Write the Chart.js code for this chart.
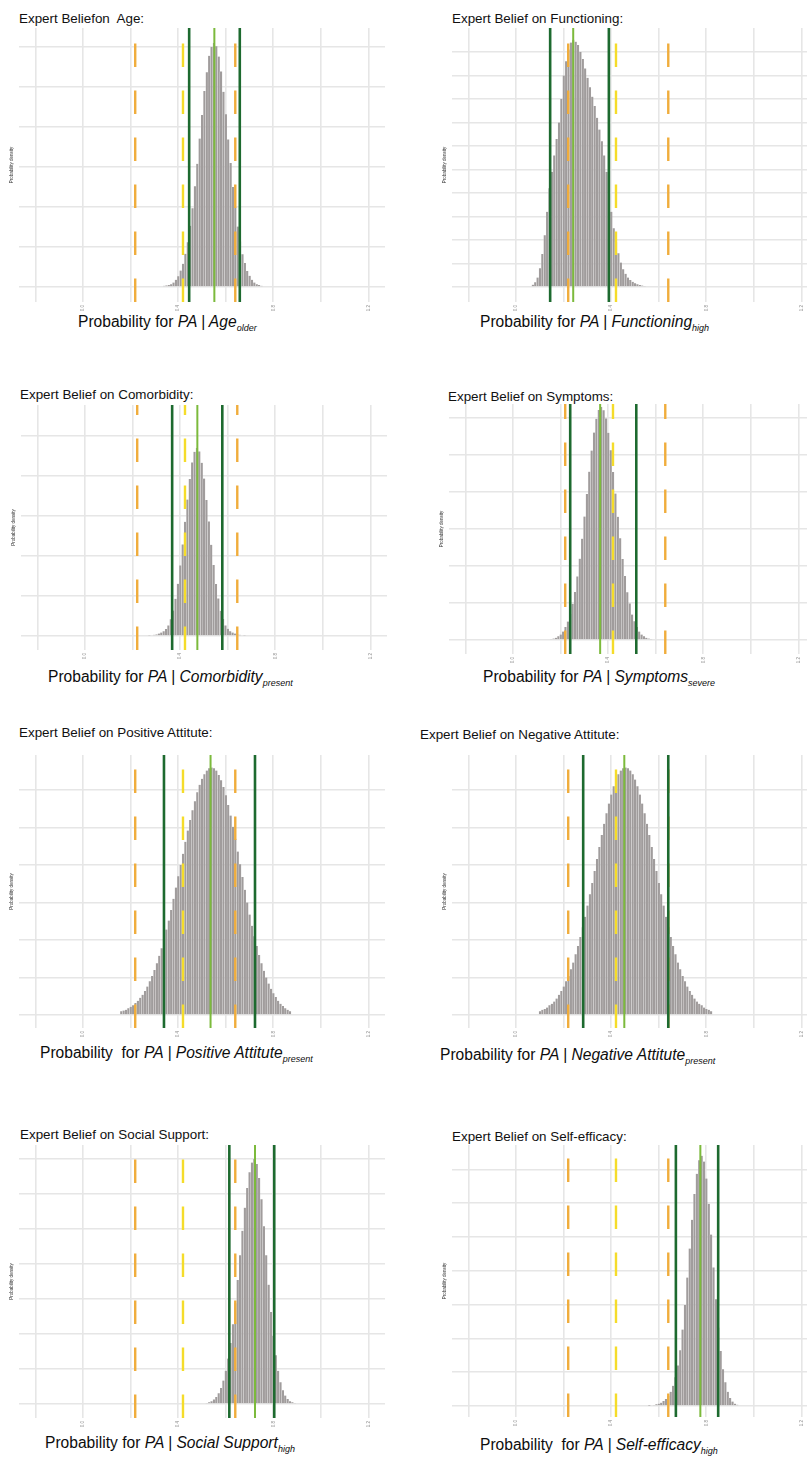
<!DOCTYPE html>
<html lang="en">
<head>
<meta charset="UTF-8">
<title>Expert Belief on PA</title>
<style>
    body {
        margin: 0;
        background: #ffffff;
        font-family: 'Liberation Sans', Arial, sans-serif;
    }
    #page {
        position: relative;
        width: 807px;
        height: 1459px;
        overflow: hidden;
    }
    .panel-title {
        position: absolute;
        font-size: 13.4px;
        line-height: 1;
        color: #111111;
        white-space: pre;
    }
    .x-title {
        position: absolute;
        font-size: 15.6px;
        line-height: 1;
        color: #0d0d0d;
        white-space: pre;
    }
    .x-title sub {
        font-size: 9px;
        vertical-align: -4px;
        line-height: 0;
    }
    canvas {
        position: absolute;
    }
</style>
</head>
<body>
<div id="page"></div>

<script src="https://cdn.jsdelivr.net/npm/chart.js"></script>
<script>
    // shared axis values
    const binWidth = 0.01;
    const xTicks = [-0.2, 0, 0.2, 0.4, 0.6, 0.8, 1.0, 1.2];
    const xLabelled = [0, 0.4, 0.8, 1.2];
    const expertDashed = [0.219, 0.42, 0.64];

    // Age
    const ageStart = 0.33;
    const ageDensity = [0.02, 0.03, 0.04, 0.05, 0.07, 0.11, 0.18, 0.27, 0.41, 0.58, 0.83, 1.12, 1.53, 1.97, 2.52, 3.08, 3.71, 4.30, 4.90, 5.37, 5.78, 6.00, 6.10, 6.02, 5.76, 5.39, 4.88, 4.32, 3.69, 3.10, 2.50, 1.99, 1.51, 1.14, 0.82, 0.60, 0.40, 0.28, 0.18, 0.11, 0.07, 0.05, 0.03, 0.02];
    const ageInterval = [0.446, 0.552, 0.659];
    const ageGrid = [0, 1, 2, 3, 4, 5, 6];

    // Functioning
    const funcStart = 0.07;
    const funcDensity = [0.05, 0.1, 0.2, 0.4, 0.7, 1.1, 1.6, 2.1, 2.45, 2.8, 3.15, 3.5, 4.0, 4.5, 4.8, 5.05, 5.2, 5.26, 5.22, 5.15, 5.0, 4.85, 4.65, 4.45, 4.25, 4.05, 3.85, 3.6, 3.35, 3.1, 2.8, 2.45, 2.0, 1.6, 1.25, 0.95, 0.72, 0.52, 0.38, 0.28, 0.2, 0.15, 0.11, 0.08, 0.06, 0.04, 0.03, 0.02];
    const funcInterval = [0.143, 0.24, 0.39];
    const funcGrid = [0, 0.5, 1, 1.5, 2, 2.5, 3, 3.5, 4, 4.5, 5];

    // Comorbidity
    const comStart = 0.27;
    const comDensity = [0.03, 0.04, 0.06, 0.08, 0.12, 0.17, 0.24, 0.35, 0.53, 0.84, 1.27, 1.86, 2.61, 3.53, 4.58, 5.71, 6.82, 7.85, 8.68, 9.21, 9.40, 9.23, 8.66, 7.87, 6.80, 5.73, 4.56, 3.55, 2.60, 1.88, 1.26, 0.85, 0.53, 0.36, 0.24, 0.17, 0.12, 0.08, 0.06, 0.04, 0.03];
    const comInterval = [0.366, 0.472, 0.577];
    const comGrid = [0, 2, 4, 6, 8, 10];

    // Symptoms
    const symStart = 0.15;
    const symDensity = [0.02, 0.03, 0.04, 0.06, 0.10, 0.15, 0.23, 0.35, 0.50, 0.70, 0.98, 1.30, 1.72, 2.20, 2.74, 3.34, 3.95, 4.55, 5.12, 5.61, 5.98, 6.22, 6.30, 6.21, 5.99, 5.60, 5.13, 4.54, 3.96, 3.33, 2.75, 2.19, 1.73, 1.29, 0.99, 0.69, 0.51, 0.35, 0.23, 0.15, 0.10, 0.06, 0.04, 0.03, 0.02];
    const symInterval = [0.24, 0.366, 0.518];
    const symGrid = [0, 1, 2, 3, 4, 5, 6];

    // Positive attitude
    const posStart = 0.16;
    const posDensity = [0.05, 0.06, 0.07, 0.09, 0.11, 0.13, 0.16, 0.19, 0.23, 0.27, 0.32, 0.38, 0.45, 0.52, 0.60, 0.69, 0.79, 0.89, 1.01, 1.14, 1.26, 1.40, 1.55, 1.70, 1.85, 2.00, 2.15, 2.31, 2.46, 2.60, 2.73, 2.85, 2.97, 3.07, 3.15, 3.21, 3.26, 3.29, 3.30, 3.29, 3.26, 3.20, 3.13, 3.04, 2.93, 2.80, 2.66, 2.51, 2.35, 2.18, 2.01, 1.84, 1.67, 1.50, 1.34, 1.19, 1.05, 0.92, 0.80, 0.69, 0.59, 0.50, 0.42, 0.35, 0.29, 0.24, 0.19, 0.15, 0.12, 0.09, 0.07, 0.05];
    const posInterval = [0.34, 0.536, 0.723];
    const posGrid = [0, 0.5, 1, 1.5, 2, 2.5, 3];

    // Negative attitude
    const negStart = 0.10;
    const negDensity = [0.05, 0.07, 0.08, 0.10, 0.13, 0.15, 0.18, 0.22, 0.27, 0.32, 0.38, 0.45, 0.52, 0.61, 0.70, 0.81, 0.92, 1.04, 1.17, 1.31, 1.46, 1.61, 1.76, 1.92, 2.08, 2.24, 2.40, 2.55, 2.69, 2.82, 2.94, 3.05, 3.14, 3.21, 3.26, 3.29, 3.30, 3.29, 3.26, 3.21, 3.14, 3.05, 2.94, 2.82, 2.69, 2.55, 2.40, 2.24, 2.08, 1.92, 1.76, 1.61, 1.46, 1.31, 1.17, 1.04, 0.92, 0.81, 0.70, 0.61, 0.52, 0.45, 0.38, 0.32, 0.27, 0.22, 0.18, 0.15, 0.13, 0.10, 0.08, 0.07, 0.05];
    const negInterval = [0.282, 0.455, 0.64];
    const negGrid = [0, 0.5, 1, 1.5, 2, 2.5, 3];

    // Social support
    const socStart = 0.52;
    const socDensity = [0.03, 0.05, 0.08, 0.13, 0.20, 0.31, 0.46, 0.67, 0.95, 1.30, 1.74, 2.28, 2.88, 3.54, 4.25, 4.95, 5.61, 6.17, 6.62, 6.90, 7.00, 6.86, 6.46, 5.85, 5.08, 4.25, 3.41, 2.63, 1.95, 1.39, 0.95, 0.62, 0.39, 0.24, 0.14, 0.08, 0.05, 0.03];
    const socInterval = [0.615, 0.723, 0.804];
    const socGrid = [0, 1, 2, 3, 4, 5, 6, 7];

    // Self-efficacy
    const selfStart = 0.56;
    const selfDensity = [0.01, 0.02, 0.03, 0.05, 0.07, 0.10, 0.15, 0.21, 0.30, 0.42, 0.60, 0.85, 1.20, 1.65, 2.26, 2.99, 3.80, 4.66, 5.51, 6.27, 6.87, 7.27, 7.40, 7.23, 6.73, 5.98, 5.07, 4.10, 3.16, 2.32, 1.63, 1.09, 0.70, 0.42, 0.24, 0.13, 0.07, 0.04];
    const selfInterval = [0.672, 0.775, 0.85];
    const selfGrid = [0, 1, 2, 3, 4, 5, 6, 7];

    const X_MIN = -0.27, X_MAX = 1.27;
    const Y_AXIS_W = 12, X_AXIS_H = 14;
    const gridColor = '#e6e6e6';
    const barColor = '#a09c9c';
    const dashedColors = ['#f0ad3c', '#f5dc2a', '#f0ad3c'];
    const darkGreen = '#1d6a2f';
    const lightGreen = '#7cba3c';

    Chart.defaults.font.family = "'Liberation Sans', Arial, sans-serif";

    const panels = [
        { title: 'Expert Beliefon  Age:', titleAt: [19, 18.5],
          xTitle: 'Probability for <i>PA | Age<sub>older</sub></i>', xTitleAt: [78, 321.5],
          start: ageStart, density: ageDensity, interval: ageInterval, grid: ageGrid,
          yMin: -0.375, yMax: 6.475, plot: [19, 28, 385, 302] },
        { title: 'Expert Belief on Functioning:', titleAt: [452, 18.5],
          xTitle: 'Probability for <i>PA | Functioning<sub>high</sub></i>', xTitleAt: [480, 322],
          start: funcStart, density: funcDensity, interval: funcInterval, grid: funcGrid,
          yMin: -0.319, yMax: 5.51, plot: [452, 28, 818, 302] },
        { title: 'Expert Belief on Comorbidity:', titleAt: [20, 395],
          xTitle: 'Probability for <i>PA | Comorbidity<sub>present</sub></i>', xTitleAt: [48, 677],
          start: comStart, density: comDensity, interval: comInterval, grid: comGrid,
          yMin: -0.7, yMax: 11.55, plot: [21, 405, 387, 650] },
        { title: 'Expert Belief on Symptoms:', titleAt: [448, 397],
          xTitle: 'Probability for <i>PA | Symptoms<sub>severe</sub></i>', xTitleAt: [483, 677],
          start: symStart, density: symDensity, interval: symInterval, grid: symGrid,
          yMin: -0.378, yMax: 6.38, plot: [449, 404, 815, 654] },
        { title: 'Expert Belief on Positive Attitute:', titleAt: [19, 733],
          xTitle: 'Probability  for <i>PA | Positive Attitute<sub>present</sub></i>', xTitleAt: [40, 1053],
          start: posStart, density: posDensity, interval: posInterval, grid: posGrid,
          yMin: -0.173, yMax: 3.467, plot: [19, 755, 385, 1028] },
        { title: 'Expert Belief on Negative Attitute:', titleAt: [420, 735],
          xTitle: 'Probability for <i>PA | Negative Attitute<sub>present</sub></i>', xTitleAt: [440, 1055],
          start: negStart, density: negDensity, interval: negInterval, grid: negGrid,
          yMin: -0.173, yMax: 3.467, plot: [452, 755, 818, 1028] },
        { title: 'Expert Belief on Social Support:', titleAt: [20, 1135],
          xTitle: 'Probability for <i>PA | Social Support<sub>high</sub></i>', xTitleAt: [45, 1443],
          start: socStart, density: socDensity, interval: socInterval, grid: socGrid,
          yMin: -0.4, yMax: 7.4, plot: [19, 1145, 385, 1418] },
        { title: 'Expert Belief on Self-efficacy:', titleAt: [452, 1137],
          xTitle: 'Probability  for <i>PA | Self-efficacy<sub>high</sub></i>', xTitleAt: [480, 1445],
          start: selfStart, density: selfDensity, interval: selfInterval, grid: selfGrid,
          yMin: -0.325, yMax: 7.72, plot: [452, 1145, 818, 1417] }
    ];

    const page = document.getElementById('page');

    function addText(cls, html, x, cy, size) {
        const el = document.createElement('div');
        el.className = cls;
        el.innerHTML = html;
        el.style.left = x + 'px';
        el.style.top = (cy - size * 0.49) + 'px';
        page.appendChild(el);
    }

    function vLine(x, p, color, width, dash) {
        return {
            type: 'line',
            data: [{ x: x, y: p.yMin }, { x: x, y: p.yMax }],
            borderColor: color,
            borderWidth: width,
            borderDash: dash || [],
            pointRadius: 0,
            fill: false,
            order: dash ? 1 : 0
        };
    }

    function drawPanel(p) {
        addText('panel-title', p.title, p.titleAt[0], p.titleAt[1], 13.4);
        addText('x-title', p.xTitle, p.xTitleAt[0], p.xTitleAt[1], 15.6);

        const left = p.plot[0] - Y_AXIS_W;
        const top = p.plot[1];
        const canvas = document.createElement('canvas');
        canvas.width = p.plot[2] - left;
        canvas.height = p.plot[3] - top + X_AXIS_H;
        canvas.style.left = left + 'px';
        canvas.style.top = top + 'px';
        page.appendChild(canvas);

        const bars = p.density.map((d, i) => ({ x: +(p.start + i * binWidth).toFixed(3), y: d }));
        const datasets = [{
            type: 'bar',
            data: bars,
            backgroundColor: barColor,
            borderColor: 'rgba(255, 255, 255, 0.35)',
            borderWidth: { left: 0.5, right: 0, top: 0, bottom: 0 },
            barPercentage: 1,
            categoryPercentage: 1,
            order: 2
        }];
        expertDashed.forEach((v, i) => datasets.push(vLine(v, p, dashedColors[i], 2.4, [23.5, 23.5])));
        datasets.push(vLine(p.interval[0], p, darkGreen, 2.6));
        datasets.push(vLine(p.interval[2], p, darkGreen, 2.6));
        datasets.push(vLine(p.interval[1], p, lightGreen, 2));

        new Chart(canvas, {
            type: 'bar',
            data: { datasets: datasets },
            options: {
                responsive: false,
                animation: false,
                devicePixelRatio: 1,
                layout: { padding: 0 },
                plugins: { legend: { display: false }, tooltip: { enabled: false } },
                scales: {
                    x: {
                        type: 'linear',
                        min: X_MIN,
                        max: X_MAX,
                        offset: false,
                        afterBuildTicks: axis => { axis.ticks = xTicks.map(v => ({ value: v })); },
                        afterFit: axis => { axis.height = X_AXIS_H; },
                        grid: { color: gridColor, lineWidth: 1.6, drawTicks: false, offset: false },
                        border: { display: false },
                        ticks: {
                            autoSkip: false,
                            minRotation: 90,
                            maxRotation: 90,
                            padding: 3,
                            color: '#8c8c8c',
                            font: { size: 4.5 },
                            callback: v => xLabelled.some(l => Math.abs(l - v) < 1e-6) ? v.toFixed(1) : ''
                        }
                    },
                    y: {
                        min: p.yMin,
                        max: p.yMax,
                        afterBuildTicks: axis => { axis.ticks = p.grid.map(v => ({ value: v })); },
                        afterFit: axis => { axis.width = Y_AXIS_W; },
                        grid: { color: gridColor, lineWidth: 1.6, drawTicks: false },
                        border: { display: false },
                        ticks: { display: false },
                        title: {
                            display: true,
                            text: 'Probability density',
                            color: '#333333',
                            font: { size: 4.5 },
                            padding: { top: 2, bottom: 0 }
                        }
                    }
                }
            }
        });
    }

    panels.forEach(drawPanel);
</script>
</body>
</html>
